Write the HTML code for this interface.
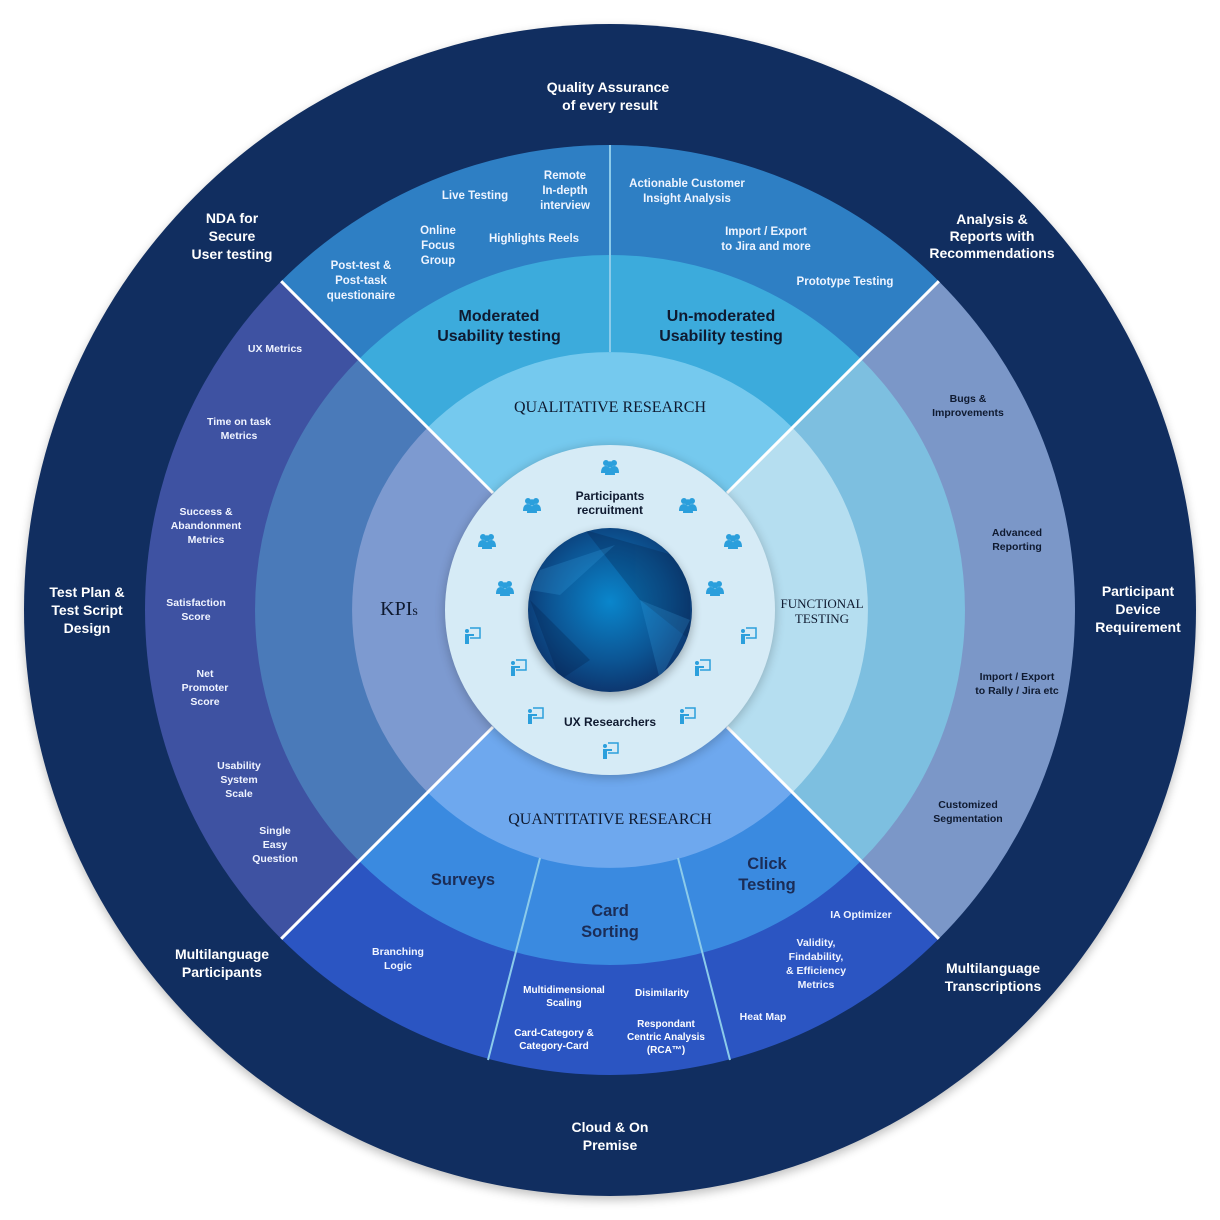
<!DOCTYPE html>
<html><head><meta charset="utf-8"><style>
html,body{margin:0;padding:0;background:#fff}
svg{display:block}
.w{fill:#fff;font-family:"Liberation Sans",sans-serif;font-weight:bold;text-anchor:middle}
.o{font-size:14px}
.s{font-size:11.5px;fill:#eef4ff}
.t{font-size:10.5px;fill:#f0f4ff}
.d{fill:#0f1a30;font-family:"Liberation Sans",sans-serif;font-weight:bold;text-anchor:middle}
.sf{fill:#0f1a30;font-family:"Liberation Serif",serif;text-anchor:middle}
.h{fill:#1b2d57;font-family:"Liberation Sans",sans-serif;font-weight:bold;text-anchor:middle;font-size:16.5px}
</style></head><body>
<svg width="1220" height="1220" viewBox="0 0 1220 1220">
<defs>
<radialGradient id="g" cx="0.5" cy="0.45" r="0.6">
<stop offset="0" stop-color="#0a86cc"/><stop offset="0.6" stop-color="#0c5594"/><stop offset="1" stop-color="#0d2f66"/></radialGradient>
<clipPath id="gc"><circle cx="610" cy="610" r="82"/></clipPath>
<filter id="sh" x="-10%" y="-10%" width="120%" height="120%"><feGaussianBlur stdDeviation="5"/></filter>
<g id="pp" fill="#2b9fdc"><circle cx="-4" cy="-4" r="3"/><circle cx="4" cy="-4" r="3"/><circle cx="0" cy="-2.5" r="3.2"/><path d="M-9 6 Q-9 -1 -4 -1 Q0 -1 0 6Z M0 6 Q0 -1 4 -1 Q9 -1 9 6Z M-5 8 Q-5 1 0 1 Q5 1 5 8Z"/></g>
<g id="pr" fill="#2b9fdc"><circle cx="-5" cy="-5" r="2"/><rect x="-7" y="-2" width="4" height="10"/><rect x="-3" y="-2" width="5" height="2"/><path d="M-2 -8 H8 V2 H-2" fill="none" stroke="#2b9fdc" stroke-width="1.5"/></g>
</defs>
<circle cx="610" cy="614" r="586" fill="#000" opacity="0.25" filter="url(#sh)"/>
<circle cx="610" cy="610" r="586" fill="#112e60"/>
<path d="M610 610 L281.2 281.2 A465 465 0 0 1 938.8 281.2Z" fill="#2e7fc4"/>
<path d="M610 610 L938.8 281.2 A465 465 0 0 1 938.8 938.8Z" fill="#7b97c8"/>
<path d="M610 610 L938.8 938.8 A465 465 0 0 1 281.2 938.8Z" fill="#2b55c2"/>
<path d="M610 610 L281.2 938.8 A465 465 0 0 1 281.2 281.2Z" fill="#3e52a2"/>
<path d="M610 610 L359 359 A355 355 0 0 1 861 359Z" fill="#3cabdc"/>
<path d="M610 610 L861 359 A355 355 0 0 1 861 861Z" fill="#7dbfe0"/>
<path d="M610 610 L861 861 A355 355 0 0 1 359 861Z" fill="#3a8ae0"/>
<path d="M610 610 L359 861 A355 355 0 0 1 359 359Z" fill="#4a7ab9"/>
<path d="M610 610 L427.6 427.6 A258 258 0 0 1 792.4 427.6Z" fill="#75c9ee"/>
<path d="M610 610 L792.4 427.6 A258 258 0 0 1 792.4 792.4Z" fill="#b5def0"/>
<path d="M610 610 L792.4 792.4 A258 258 0 0 1 427.6 792.4Z" fill="#6ea8ee"/>
<path d="M610 610 L427.6 792.4 A258 258 0 0 1 427.6 427.6Z" fill="#7d9ad0"/>
<g stroke="#fff" stroke-width="3">
<line x1="281.2" y1="281.2" x2="493" y2="493"/><line x1="938.8" y1="281.2" x2="727" y2="493"/>
<line x1="281.2" y1="938.8" x2="493" y2="727"/><line x1="938.8" y1="938.8" x2="727" y2="727"/>
</g>
<line x1="610" y1="145" x2="610" y2="352" stroke="#8ccbea" stroke-width="2"/>
<line x1="540" y1="858" x2="488" y2="1060" stroke="#8ccbea" stroke-width="2"/>
<line x1="678" y1="858" x2="730" y2="1060" stroke="#8ccbea" stroke-width="2"/>
<circle cx="610" cy="612" r="166" fill="#000" opacity="0.2" filter="url(#sh)"/>
<circle cx="610" cy="610" r="165" fill="#d6ebf6"/>
<circle cx="610" cy="614" r="82" fill="#000" opacity="0.3" filter="url(#sh)"/>
<circle cx="610" cy="610" r="82" fill="url(#g)"/>
<g clip-path="url(#gc)">
<g opacity="0.25" fill="#031a40"><path d="M585 530 L690 560 L690 640 L640 600Z"/><path d="M530 600 L590 660 L560 680Z"/></g>
<g opacity="0.2" fill="#3fb0ef"><path d="M615 545 L560 595 L530 590 L540 570Z"/><path d="M640 600 L690 620 L660 680Z"/></g>
</g>
<use href="#pp" x="610" y="467"/><use href="#pp" x="532" y="505"/><use href="#pp" x="688" y="505"/>
<use href="#pp" x="487" y="541"/><use href="#pp" x="733" y="541"/><use href="#pp" x="505" y="588"/><use href="#pp" x="715" y="588"/>
<use href="#pr" x="472" y="636"/><use href="#pr" x="748" y="636"/><use href="#pr" x="518" y="668"/><use href="#pr" x="702" y="668"/>
<use href="#pr" x="535" y="716"/><use href="#pr" x="687" y="716"/><use href="#pr" x="610" y="751"/>
<text class="d" font-size="12"><tspan x="610" y="500">Participants</tspan><tspan x="610" y="514">recruitment</tspan></text>
<text class="d" font-size="12" x="610" y="726">UX Researchers</text>
<text class="w o"><tspan x="608" y="92">Quality Assurance</tspan><tspan x="610" y="110">of every result</tspan></text>
<text class="w o"><tspan x="232" y="223">NDA for</tspan><tspan x="232" y="241">Secure</tspan><tspan x="232" y="259">User testing</tspan></text>
<text class="w o"><tspan x="992" y="224">Analysis &amp;</tspan><tspan x="992" y="241">Reports with</tspan><tspan x="992" y="258">Recommendations</tspan></text>
<text class="w o"><tspan x="87" y="597">Test Plan &amp;</tspan><tspan x="87" y="615">Test Script</tspan><tspan x="87" y="633">Design</tspan></text>
<text class="w o"><tspan x="1138" y="596">Participant</tspan><tspan x="1138" y="614">Device</tspan><tspan x="1138" y="632">Requirement</tspan></text>
<text class="w o"><tspan x="222" y="959">Multilanguage</tspan><tspan x="222" y="977">Participants</tspan></text>
<text class="w o"><tspan x="993" y="973">Multilanguage</tspan><tspan x="993" y="991">Transcriptions</tspan></text>
<text class="w o"><tspan x="610" y="1132">Cloud &amp; On</tspan><tspan x="610" y="1150">Premise</tspan></text>
<text class="w s"><tspan x="565" y="179">Remote</tspan><tspan x="565" y="194">In-depth</tspan><tspan x="565" y="209">interview</tspan></text>
<text class="w s" x="475" y="199">Live Testing</text>
<text class="w s"><tspan x="438" y="234">Online</tspan><tspan x="438" y="249">Focus</tspan><tspan x="438" y="264">Group</tspan></text>
<text class="w s" x="534" y="242">Highlights Reels</text>
<text class="w s"><tspan x="361" y="269">Post-test &amp;</tspan><tspan x="361" y="284">Post-task</tspan><tspan x="361" y="299">questionaire</tspan></text>
<text class="w s"><tspan x="687" y="187">Actionable Customer</tspan><tspan x="687" y="202">Insight Analysis</tspan></text>
<text class="w s"><tspan x="766" y="235">Import / Export</tspan><tspan x="766" y="250">to Jira and more</tspan></text>
<text class="w s" x="845" y="285">Prototype Testing</text>
<text class="d" font-size="16" fill="#2a1f3d"><tspan x="499" y="321">Moderated</tspan><tspan x="499" y="341">Usability testing</tspan></text>
<text class="d" font-size="16"><tspan x="721" y="321">Un-moderated</tspan><tspan x="721" y="341">Usability testing</tspan></text>
<text class="sf" font-size="16" x="610" y="412">QUALITATIVE RESEARCH</text>
<text class="d" font-size="10.5"><tspan x="968" y="402">Bugs &amp;</tspan><tspan x="968" y="416">Improvements</tspan></text>
<text class="d" font-size="10.5"><tspan x="1017" y="536">Advanced</tspan><tspan x="1017" y="550">Reporting</tspan></text>
<text class="d" font-size="10.5"><tspan x="1017" y="680">Import / Export</tspan><tspan x="1017" y="694">to Rally / Jira etc</tspan></text>
<text class="d" font-size="10.5"><tspan x="968" y="808">Customized</tspan><tspan x="968" y="822">Segmentation</tspan></text>
<text class="sf" font-size="13"><tspan x="822" y="608">FUNCTIONAL</tspan><tspan x="822" y="623">TESTING</tspan></text>
<text class="w t" x="275" y="352">UX Metrics</text>
<text class="w t"><tspan x="239" y="425">Time on task</tspan><tspan x="239" y="439">Metrics</tspan></text>
<text class="w t"><tspan x="206" y="515">Success &amp;</tspan><tspan x="206" y="529">Abandonment</tspan><tspan x="206" y="543">Metrics</tspan></text>
<text class="w t"><tspan x="196" y="606">Satisfaction</tspan><tspan x="196" y="620">Score</tspan></text>
<text class="w t"><tspan x="205" y="677">Net</tspan><tspan x="205" y="691">Promoter</tspan><tspan x="205" y="705">Score</tspan></text>
<text class="w t"><tspan x="239" y="769">Usability</tspan><tspan x="239" y="783">System</tspan><tspan x="239" y="797">Scale</tspan></text>
<text class="w t"><tspan x="275" y="834">Single</tspan><tspan x="275" y="848">Easy</tspan><tspan x="275" y="862">Question</tspan></text>
<text class="sf" font-size="20" x="399" y="615">KPI<tspan font-size="14">s</tspan></text>
<text class="sf" font-size="16" x="610" y="824">QUANTITATIVE RESEARCH</text>
<text class="h" x="463" y="885">Surveys</text>
<text class="h"><tspan x="610" y="916">Card</tspan><tspan x="610" y="937">Sorting</tspan></text>
<text class="h"><tspan x="767" y="869">Click</tspan><tspan x="767" y="890">Testing</tspan></text>
<text class="w t" x="861" y="918">IA Optimizer</text>
<text class="w t"><tspan x="816" y="946">Validity,</tspan><tspan x="816" y="960">Findability,</tspan><tspan x="816" y="974">&amp; Efficiency</tspan><tspan x="816" y="988">Metrics</tspan></text>
<text class="w t" x="763" y="1020">Heat Map</text>
<text class="w t"><tspan x="398" y="955">Branching</tspan><tspan x="398" y="969">Logic</tspan></text>
<text class="w" font-size="10" fill="#f0f4ff"><tspan x="564" y="993">Multidimensional</tspan><tspan x="564" y="1006">Scaling</tspan></text>
<text class="w" font-size="10" fill="#f0f4ff" x="662" y="996">Disimilarity</text>
<text class="w" font-size="10" fill="#f0f4ff"><tspan x="554" y="1036">Card-Category &amp;</tspan><tspan x="554" y="1049">Category-Card</tspan></text>
<text class="w" font-size="10" fill="#f0f4ff"><tspan x="666" y="1027">Respondant</tspan><tspan x="666" y="1040">Centric Analysis</tspan><tspan x="666" y="1053">(RCA™)</tspan></text>
</svg>
</body></html>
